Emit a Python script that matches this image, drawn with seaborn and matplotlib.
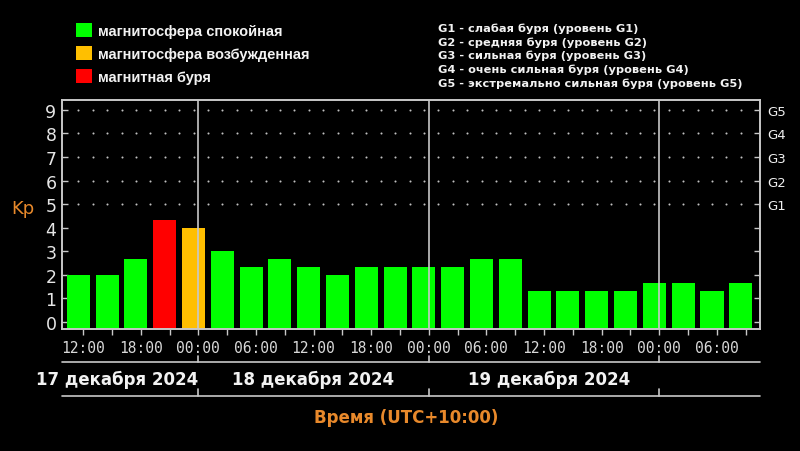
import numpy as np
import pandas as pd
import seaborn as sns
import matplotlib.pyplot as plt
import matplotlib.transforms as mtransforms
from matplotlib.patches import Patch

# --- данные: индекс Kp по 3-часовым интервалам, время UTC+10, часы от 17.12 00:00 ---
bar_hours = [11.5, 14.5, 17.5, 20.5, 23.5, 26.5, 29.5, 32.5, 35.5, 38.5, 41.5, 44.5,
             47.5, 50.5, 53.5, 56.5, 59.5, 62.5, 65.5, 68.5, 71.5, 74.5, 77.5, 80.5]
kp_values = [2.0, 2.0, 2.67, 4.33, 4.0, 3.0, 2.33, 2.67, 2.33, 2.0, 2.33, 2.33,
             2.33, 2.33, 2.67, 2.67, 1.33, 1.33, 1.33, 1.33, 1.67, 1.67, 1.33, 1.67]
kp_states = ['calm', 'calm', 'calm', 'storm', 'active', 'calm', 'calm', 'calm',
             'calm', 'calm', 'calm', 'calm', 'calm', 'calm', 'calm', 'calm',
             'calm', 'calm', 'calm', 'calm', 'calm', 'calm', 'calm', 'calm']

state_names = ['calm', 'active', 'storm']
state_labels = ['магнитосфера спокойная', 'магнитосфера возбужденная', 'магнитная буря']
state_colors = {'calm': '#00ff00', 'active': '#ffbf00', 'storm': '#ff0000'}

tick_hours = [12, 18, 24, 30, 36, 42, 48, 54, 60, 66, 72, 78]
tick_labels = ['12:00', '18:00', '00:00', '06:00', '12:00', '18:00',
               '00:00', '06:00', '12:00', '18:00', '00:00', '06:00']
minor_hours = [12, 15, 18, 21, 24, 27, 30, 33, 36, 39, 42, 45, 48, 51, 54, 57,
               60, 63, 66, 69, 72, 75, 78, 81]
day_bounds = [24, 48, 72]
day_labels = ['17 декабря 2024', '18 декабря 2024', '19 декабря 2024']
day_label_hours = [15.5, 36, 60.5]

g_levels = ['G1', 'G2', 'G3', 'G4', 'G5']
g_legend = ['G1 - слабая буря (уровень G1)',
            'G2 - средняя буря (уровень G2)',
            'G3 - сильная буря (уровень G3)',
            'G4 - очень сильная буря (уровень G4)',
            'G5 - экстремально сильная буря (уровень G5)']

YMIN, YMAX = -0.3, 9.42
XMIN, XMAX = 9.8, 82.5
LINE_C = '#c8c8c8'
ORANGE = '#e8892b'

sns.set_theme(style='dark')
plt.rcParams['font.family'] = ['DejaVu Sans']
plt.rcParams['figure.facecolor'] = 'black'
plt.rcParams['axes.facecolor'] = 'black'

fig = plt.figure(figsize=(8, 4.52), dpi=100)
ax = fig.add_axes([0.0775, 0.270, 0.8725, 0.5065])

df = pd.DataFrame({'hour': bar_hours, 'kp': kp_values, 'state': kp_states})
sns.barplot(data=df, x='hour', y='kp', hue='state', palette=state_colors,
            hue_order=state_names, native_scale=True, width=0.8, dodge=False,
            saturation=1, linewidth=0, legend=False, ax=ax)

# столбики начинаются от нижнего края оси, как на оригинале
for p in ax.patches:
    h = p.get_height()
    p.set_y(YMIN)
    p.set_height(h - YMIN)

ax.set_xlim(XMIN, XMAX)
ax.set_ylim(YMIN, YMAX)

# точечная сетка только для уровней 5..9
gx, gy = np.meshgrid(np.arange(11.5, 81, 1.5), [5, 6, 7, 8, 9])
ax.scatter(gx.ravel(), gy.ravel(), s=2.2, color='#c0c0c0', linewidths=0, zorder=1)

for d in day_bounds:
    ax.axvline(d, color=LINE_C, lw=1.2, zorder=3)

for s in ax.spines.values():
    s.set_color(LINE_C)
    s.set_linewidth(1.2)
    s.set_visible(True)

ax.set_yticks(range(10))
ax.set_yticklabels([str(i) for i in range(10)])
ax.tick_params(axis='y', direction='in', length=4, width=1, color=LINE_C,
               labelcolor='#e6e6e6', labelsize=12.5, pad=4, left=True)
ax.set_xticks(minor_hours, minor=True)
ax.set_xticks(tick_hours)
ax.set_xticklabels(tick_labels, family='DejaVu Sans Mono')
ax.tick_params(axis='x', which='both', direction='out', length=4, width=1,
               color=LINE_C, labelcolor='#d8d8d8', labelsize=10.5, pad=4, bottom=True)
ax.set_xlabel('')
ax.set_ylabel('')
ax.grid(False)

ax2 = ax.twinx()
ax2.set_ylim(YMIN, YMAX)
ax2.set_yticks(range(10))
ax2.set_yticklabels([''] * 5 + g_levels)
ax2.tick_params(axis='y', direction='in', length=4, width=1, color=LINE_C,
                labelcolor='#f0f0f0', labelsize=9.5, pad=5, right=True)
ax2.grid(False)
for s in ax2.spines.values():
    s.set_color(LINE_C)
    s.set_linewidth(1.2)

# полоса с датами под осью
tr = mtransforms.blended_transform_factory(ax.transData, ax.transAxes)
for yline in (-0.144, -0.293):
    ax.plot([XMIN, XMAX], [yline, yline], color=LINE_C, lw=1.2,
            transform=tr, clip_on=False)
for d in day_bounds:
    ax.plot([d, d], [-0.118, -0.144], color=LINE_C, lw=1.2, transform=tr, clip_on=False)
    ax.plot([d, d], [-0.262, -0.293], color=LINE_C, lw=1.2, transform=tr, clip_on=False)
for h, lab in zip(day_label_hours, day_labels):
    ax.text(h, -0.218, lab, transform=tr, ha='center', va='center',
            fontsize=12, fontweight='bold', color='#f2f2f2')

fig.text(0.508, 1 - 418 / 452, 'Время (UTC+10:00)', ha='center', va='center',
         fontsize=12, fontweight='bold', color=ORANGE)
fig.text(0.014, 1 - 209 / 452, 'Kp', ha='left', va='center', fontsize=13, color=ORANGE)

# легенда состояний
handles = [Patch(facecolor=state_colors[s], edgecolor='none') for s in state_names]
fig.legend(handles, state_labels, loc='upper left', bbox_to_anchor=(0.088, 1 - 18 / 452),
           frameon=False, labelcolor='#f2f2f2', handlelength=1.1,
           handleheight=1.1, handletextpad=0.4, labelspacing=0.55, borderaxespad=0,
           prop={'family': 'Liberation Sans', 'weight': 'bold', 'size': 10.5})

# легенда уровней G
for i, line in enumerate(g_legend):
    fig.text(438 / 800, 1 - (29 + 13.6 * i) / 452, line, ha='left', va='center',
             fontsize=8.2, fontweight='bold', color='#f2f2f2')

fig.savefig('out.png', dpi=100, facecolor='black')
